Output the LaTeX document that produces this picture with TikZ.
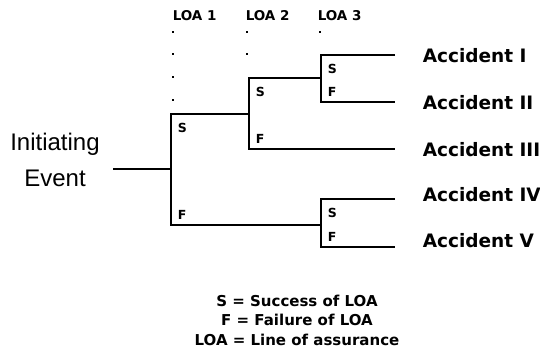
\documentclass[tikz,border=0pt]{standalone}
\usepackage{fontspec}
\setsansfont{DejaVu Sans}
\newfontfamily\initfont{Liberation Sans}
\usetikzlibrary{arrows.meta, positioning}

\begin{document}
\begin{tikzpicture}[x=1pt, y=-1pt, line width=1.5pt,
    sflab/.style={font=\sffamily\bfseries\fontsize{12.5}{12.5}\selectfont, inner sep=0pt},
    accident/.style={font=\sffamily\bfseries\fontsize{18.5}{18.5}\selectfont, anchor=west, inner sep=0pt},
    loahead/.style={font=\sffamily\bfseries\fontsize{13.5}{13.5}\selectfont, anchor=west, inner sep=0pt},
    legend/.style={font=\sffamily\bfseries\fontsize{15}{19.5}\selectfont, align=center, inner sep=0pt},
    dotmark/.style={fill, inner sep=0pt, minimum size=2.8pt}]
    \useasboundingbox (0,0) rectangle (540,354);

    % Column heads and the dotted guides below them
    \node[loahead] (loa1) at (172,16) {LOA 1};
    \node[loahead] (loa2) at (245,16) {LOA 2};
    \node[loahead] (loa3) at (317,16) {LOA 3};
    \foreach \y [count=\i] in {32,54,77,100}
        \node[dotmark] (dA\i) at (173,\y) {};
    \foreach \y [count=\i] in {32,54}
        \node[dotmark] (dB\i) at (247,\y) {};
    \node[dotmark] (dC1) at (320,32) {};

    % Initiating event
    \node[font=\initfont\fontsize{24}{36}\selectfont, align=center, inner sep=0pt]
        (init) at (55,160) {Initiating\\Event};

    % Branch points
    \coordinate (ie)   at (113,169);
    \coordinate (l1)   at (171,169);
    \coordinate (l1s)  at (171,114);
    \coordinate (l1f)  at (171,225);
    \coordinate (l2)   at (249,114);
    \coordinate (l2s)  at (249,78);
    \coordinate (l2f)  at (249,149);
    \coordinate (l3a)  at (321,78);
    \coordinate (l3as) at (321,55);
    \coordinate (l3af) at (321,102);
    \coordinate (l3b)  at (321,225);
    \coordinate (l3bs) at (321,199);
    \coordinate (l3bf) at (321,247);

    % Branch ends
    \coordinate (e1) at (395,55);
    \coordinate (e2) at (395,102);
    \coordinate (e3) at (395,149);
    \coordinate (e4) at (395,199);
    \coordinate (e5) at (395,247);

    % Draw the tree
    \draw (ie) -- (l1);
    \draw (l2) -- (l1s) -- (l1f) -- (l3b);
    \draw (l3a) -- (l2s) -- (l2f) -- (e3);
    \draw (e1) -- (l3as) -- (l3af) -- (e2);
    \draw (e4) -- (l3bs) -- (l3bf) -- (e5);

    % Success / failure marks
    \node[sflab, below right=8pt and 6pt of l1s] (s1) {S};
    \node[sflab, above right=4.5pt and 6pt of l1f] (f1) {F};
    \node[sflab, below right=8pt and 6pt of l2s] (s2) {S};
    \node[sflab, above right=4.5pt and 6pt of l2f] (f2) {F};
    \node[sflab, below right=8pt and 6pt of l3as] (s3a) {S};
    \node[sflab, above right=4.5pt and 6pt of l3af] (f3a) {F};
    \node[sflab, below right=8pt and 6pt of l3bs] (s3b) {S};
    \node[sflab, above right=4.5pt and 6pt of l3bf] (f3b) {F};

    % Outcomes
    \node[accident] (acc1) at (422,55.5) {Accident I};
    \node[accident] (acc2) at (422,102.5) {Accident II};
    \node[accident] (acc3) at (422,149.5) {Accident III};
    \node[accident] (acc4) at (422,194.5) {Accident IV};
    \node[accident] (acc5) at (422,240.5) {Accident V};

    % Key
    \node[legend] (key) at (297,320) {S = Success of LOA\\F = Failure of LOA\\LOA = Line of assurance};
\end{tikzpicture}
\end{document}
